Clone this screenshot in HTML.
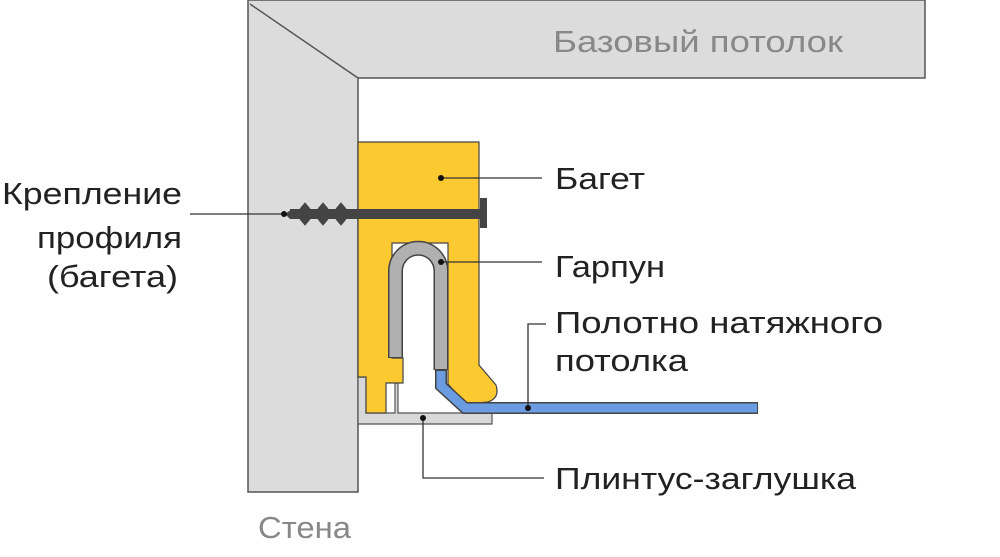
<!DOCTYPE html>
<html><head><meta charset="utf-8"><style>
html,body{margin:0;padding:0;background:#fff;width:1000px;height:557px;overflow:hidden}
text{font-family:"Liberation Sans",sans-serif;font-size:31px;fill:#222}
</style></head><body>
<svg width="1000" height="557" viewBox="0 0 1000 557" xmlns="http://www.w3.org/2000/svg">
<path d="M248,0 H925 V78 H358 V492 H248 Z" fill="#dcdcdc" stroke="#555" stroke-width="1.5"/>
<line x1="250" y1="4" x2="358" y2="78" stroke="#555" stroke-width="1.5"/>
<text x="553" y="52" textLength="290" lengthAdjust="spacingAndGlyphs" style="fill:#888">Базовый потолок</text>
<text x="258" y="538" textLength="93" lengthAdjust="spacingAndGlyphs" style="fill:#888">Стена</text>
<path d="M358,377 H366 V413 H395 V383 H398 V413 H492 V424 H358 Z" fill="#d8d8d8" stroke="#555" stroke-width="1.2"/>
<path d="M358,142 H479 V365 L496,385 Q500,398 488,402 L466,404 L448,384 L448,243 H392 V358 H403 V383 H386 V413 H366 V377 H358 Z" fill="#fdc931" stroke="#444" stroke-width="1.2"/>
<path d="M395.5,358 V271 A22.75,22.75 0 0 1 441,271 V370" fill="none" stroke="#444" stroke-width="15"/>
<path d="M395.5,357 V271 A22.75,22.75 0 0 1 441,271 V369" fill="none" stroke="#b0b0b0" stroke-width="12"/>
<path d="M441,370 V386 L465,408 H758" fill="none" stroke="#444" stroke-width="12"/>
<path d="M441,371 V386 L465,408 H757" fill="none" stroke="#6b9be0" stroke-width="9"/>
<rect x="290" y="209" width="190" height="10" fill="#444"/>
<path d="M285,214 L292,209 L290,219 Z" fill="#444"/>
<path d="M300,209 l5,-6 l5,6 M318,209 l5,-6 l5,6 M336,209 l5,-6 l5,6 M300,219 l5,6 l5,-6 M318,219 l5,6 l5,-6 M336,219 l5,6 l5,-6" fill="#444" stroke="#444" stroke-width="1"/>
<rect x="480" y="198" width="7" height="30" fill="#444"/>
<g stroke="#333" stroke-width="1.3" fill="none">
<line x1="190" y1="214" x2="284" y2="214"/>
<line x1="441" y1="178" x2="542" y2="178"/>
<line x1="441" y1="262" x2="542" y2="262"/>
<polyline points="546,324 528,324 528,408"/>
<polyline points="423,418 423,478 544,478"/>
</g>
<g fill="#111">
<circle cx="284" cy="214" r="3"/><circle cx="441" cy="178" r="3"/><circle cx="441" cy="262" r="3"/>
<circle cx="528" cy="408" r="3"/><circle cx="423" cy="418" r="3"/>
</g>
<g style="font-size:32px" lengthAdjust="spacingAndGlyphs">
<text x="555" y="189" textLength="90" lengthAdjust="spacingAndGlyphs">Багет</text>
<text x="555" y="277" textLength="110" lengthAdjust="spacingAndGlyphs">Гарпун</text>
<text x="555" y="333" textLength="328" lengthAdjust="spacingAndGlyphs">Полотно натяжного</text>
<text x="555" y="371" textLength="133" lengthAdjust="spacingAndGlyphs">потолка</text>
<text x="555" y="489" textLength="301" lengthAdjust="spacingAndGlyphs">Плинтус-заглушка</text>
<text x="2" y="204" textLength="180" lengthAdjust="spacingAndGlyphs">Крепление</text>
<text x="37" y="248" textLength="145" lengthAdjust="spacingAndGlyphs">профиля</text>
<text x="47" y="287" textLength="131" lengthAdjust="spacingAndGlyphs">(багета)</text>
</g>
</svg>
</body></html>
